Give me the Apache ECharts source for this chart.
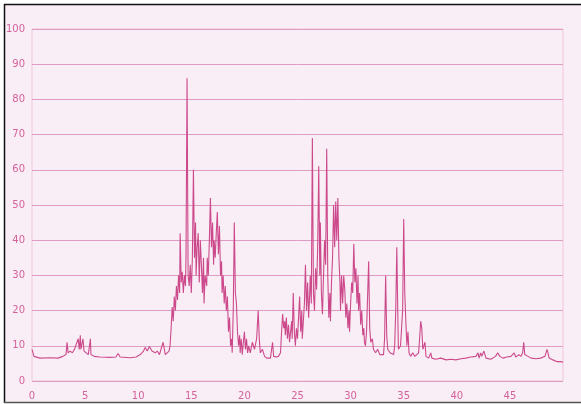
<!DOCTYPE html>
<html>
<head>
<meta charset="utf-8">
<script src="https://cdn.jsdelivr.net/npm/echarts@6/dist/echarts.min.js"></script>
<style>
  html, body { margin: 0; padding: 0; background: #ffffff; }
  #chart { width: 581px; height: 404px; }
</style>
</head>
<body>
<div id="chart"></div>
<script>
// Sample positions along the horizontal axis
var xValues = [
  0.0, 0.19, 0.75, 1.7, 2.45, 2.9, 3.2, 3.3, 3.4, 3.6, 3.8, 4.0, 4.15, 4.35, 4.45, 4.55, 4.6, 4.8, 4.9, 5.1,
  5.3, 5.5, 5.55, 5.85, 6.4, 7.35, 7.9, 8.1, 8.3, 9.25, 9.8, 10.2, 10.5, 10.65, 10.85, 11.05, 11.3, 11.6, 11.8, 12.0,
  12.15, 12.35, 12.55, 12.7, 12.9, 13.0, 13.1, 13.2, 13.3, 13.4, 13.5, 13.6, 13.7, 13.8, 13.9, 13.95, 14.05, 14.15, 14.25, 14.35,
  14.45, 14.5, 14.6, 14.7, 14.8, 14.9, 15.0, 15.1, 15.2, 15.3, 15.4, 15.45, 15.55, 15.65, 15.75, 15.85, 15.95, 16.05, 16.15, 16.2,
  16.3, 16.45, 16.5, 16.6, 16.7, 16.8, 16.9, 17.0, 17.1, 17.15, 17.25, 17.35, 17.45, 17.55, 17.65, 17.75, 17.85, 17.9, 18.0, 18.1,
  18.2, 18.3, 18.4, 18.5, 18.6, 18.7, 18.8, 18.85, 18.95, 19.05, 19.15, 19.25, 19.35, 19.45, 19.55, 19.6, 19.7, 19.8, 19.9, 20.0,
  20.1, 20.2, 20.3, 20.4, 20.55, 20.75, 20.95, 21.15, 21.3, 21.4, 21.5, 21.7, 21.9, 22.1, 22.25, 22.45, 22.65, 22.75, 23.0, 23.2,
  23.4, 23.5, 23.6, 23.7, 23.8, 23.85, 23.95, 24.05, 24.15, 24.25, 24.35, 24.45, 24.5, 24.6, 24.7, 24.8, 24.9, 25.0, 25.1, 25.2,
  25.3, 25.4, 25.45, 25.55, 25.65, 25.75, 25.85, 25.95, 26.05, 26.15, 26.2, 26.3, 26.4, 26.5, 26.6, 26.7, 26.8, 26.9, 27.0, 27.1,
  27.15, 27.25, 27.35, 27.45, 27.55, 27.65, 27.75, 27.85, 27.95, 28.05, 28.1, 28.2, 28.3, 28.4, 28.5, 28.6, 28.7, 28.8, 28.9, 29.0,
  29.05, 29.15, 29.25, 29.35, 29.45, 29.55, 29.65, 29.75, 29.85, 29.9, 30.0, 30.1, 30.2, 30.3, 30.4, 30.5, 30.6, 30.7, 30.75, 30.85,
  30.95, 31.05, 31.15, 31.25, 31.3, 31.4, 31.5, 31.7, 31.8, 31.9, 32.05, 32.15, 32.35, 32.55, 32.75, 32.9, 33.1, 33.2, 33.3, 33.4,
  33.5, 33.7, 33.85, 34.05, 34.15, 34.25, 34.35, 34.45, 34.5, 34.7, 34.9, 35.0, 35.1, 35.2, 35.3, 35.4, 35.5, 35.65, 35.85, 36.05,
  36.2, 36.4, 36.5, 36.6, 36.7, 36.8, 37.0, 37.1, 37.35, 37.55, 37.65, 38.0, 38.5, 39.0, 39.45, 39.9, 40.4, 40.85, 41.3, 41.8,
  42.0, 42.1, 42.25, 42.35, 42.55, 42.75, 43.2, 43.65, 43.85, 44.05, 44.35, 44.7, 45.1, 45.4, 45.55, 45.85, 46.05, 46.2, 46.3, 46.4,
  46.7, 47.0, 47.45, 47.9, 48.3, 48.5, 48.7, 49.05, 49.45, 49.8, 50.0
];

// Measured level at each position
var yValues = [
  9, 7, 6.5, 6.6, 6.5, 7, 7.5, 11, 8, 8.5, 8, 9, 8.5, 12, 9, 13, 9, 12, 8.5, 8,
  7.5, 12, 7.5, 7, 6.8, 6.7, 6.8, 7.8, 6.8, 6.6, 6.8, 7.5, 8.5, 9.5, 8.5, 9.8, 8.5, 8, 8.5, 7.5,
  8, 11, 7.5, 7.5, 8.5, 10, 15, 21, 17, 24, 20, 27, 23, 30, 25, 42, 28, 31, 25, 30,
  27, 35, 86, 30, 27, 33, 25, 35, 60, 35, 45, 30, 38, 42, 28, 40, 33, 25, 35, 22,
  30, 27, 35, 30, 40, 52, 38, 45, 33, 40, 35, 42, 48, 36, 44, 30, 34, 25, 30, 22,
  27, 20, 24, 14, 18, 10, 12, 8, 20, 45, 25, 22, 14, 10, 13, 8, 12, 7.5, 11, 14,
  9, 12, 8, 10, 8, 11, 9, 12, 20, 12, 8, 9, 7, 6.5, 7, 6.5, 11, 7, 6.8, 7,
  8, 14, 19, 15, 17, 13, 18, 12, 16, 11, 14, 17, 12, 25, 14, 10, 15, 12, 18, 24,
  14, 20, 12, 17, 22, 33, 20, 28, 18, 25, 30, 22, 69, 25, 20, 32, 26, 38, 61, 30,
  45, 25, 19, 30, 40, 33, 66, 30, 18, 25, 17, 28, 35, 50, 38, 51, 40, 52, 35, 28,
  20, 30, 22, 30, 26, 18, 22, 15, 20, 14, 22, 28, 25, 39, 28, 32, 22, 30, 20, 25,
  16, 20, 13, 15, 11, 10, 14, 34, 15, 11, 12, 9, 8, 9, 7.5, 8, 7.5, 12, 30, 13,
  9, 8, 8.5, 7.5, 10, 20, 38, 18, 9, 10, 20, 46, 25, 17, 10, 14, 8, 7, 8, 7,
  6.5, 8, 12, 17, 15, 9, 11, 7, 6.5, 8, 6.5, 6.2, 6.5, 6, 6.2, 6, 6.3, 6.5, 6.8, 7,
  8, 6.5, 8, 7, 8.5, 6.5, 6.2, 7, 8, 7, 6.5, 6.8, 7, 8, 6.8, 7.5, 7, 8, 11, 7.5,
  7, 6.5, 6.3, 6.5, 7, 9, 6.5, 6, 5.5, 5.5, 5.3
];

// Axis ticks
var xTicks = [0, 5, 10, 15, 20, 25, 30, 35, 40, 45];
var yTicks = [0, 10, 20, 30, 40, 50, 60, 70, 80, 90, 100];

var points = xValues.map(function (x, i) { return [x, yValues[i]]; });

var pinkText = '#d4629c';
var gridPink = '#df9cc2';

var chart = echarts.init(document.getElementById('chart'), null, { renderer: 'canvas' });

chart.setOption({
  backgroundColor: '#ffffff',
  animation: false,
  graphic: [
    // paper panel with dark frame on top, left and bottom
    { type: 'rect', z: -10, silent: true,
      shape: { x: 5, y: 5, width: 576, height: 397 },
      style: { fill: '#f9eef5' } },
    { type: 'line', z: 100, silent: true,
      shape: { x1: 4, y1: 4.5, x2: 581, y2: 4.5 },
      style: { stroke: '#111111', lineWidth: 1.5 } },
    { type: 'line', z: 100, silent: true,
      shape: { x1: 4.5, y1: 4, x2: 4.5, y2: 403 },
      style: { stroke: '#111111', lineWidth: 1.5 } },
    { type: 'line', z: 100, silent: true,
      shape: { x1: 4, y1: 402.5, x2: 581, y2: 402.5 },
      style: { stroke: '#555555', lineWidth: 1.5 } }
  ],
  grid: {
    left: 32, right: 18, top: 29, bottom: 23,
    show: true, borderColor: '#ecc6dc', borderWidth: 1,
    backgroundColor: 'transparent'
  },
  xAxis: {
    type: 'value',
    min: 0, max: 50, interval: 5,
    axisLine: { show: false },
    axisTick: { show: false },
    splitLine: { show: false },
    axisLabel: {
      color: pinkText, fontFamily: 'DejaVu Sans', fontSize: 10, margin: 10,
      formatter: function (v) { return xTicks.indexOf(v) >= 0 ? String(v) : ''; }
    }
  },
  yAxis: {
    type: 'value',
    min: 0, max: 100, interval: 10,
    axisLine: { show: false },
    axisTick: { show: false },
    splitLine: { show: true, lineStyle: { color: gridPink, width: 1 } },
    axisLabel: {
      color: pinkText, fontFamily: 'DejaVu Sans', fontSize: 10, margin: 7,
      formatter: function (v) { return yTicks.indexOf(v) >= 0 ? String(v) : ''; }
    }
  },
  series: [{
    type: 'line',
    data: points,
    showSymbol: false,
    symbol: 'none',
    lineStyle: { color: '#cc4a8c', width: 1.1 },
    z: 3
  }]
});
</script>
</body>
</html>
